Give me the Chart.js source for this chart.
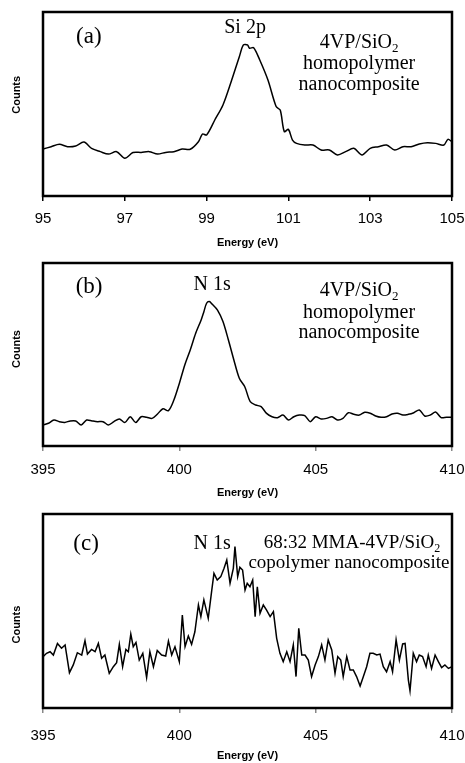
<!DOCTYPE html>
<html><head><meta charset="utf-8">
<script src="https://cdn.jsdelivr.net/npm/chart.js@4.4.1/dist/chart.umd.min.js"></script>
<style>
html,body{margin:0;padding:0;background:#fff;width:465px;height:763px;overflow:hidden;}
canvas{position:absolute;left:0;}
</style></head><body>
<canvas id="ca" width="465" height="250" style="top:0px"></canvas>
<canvas id="cb" width="465" height="250" style="top:250px"></canvas>
<canvas id="cc" width="465" height="263" style="top:500px"></canvas>
<script>
// ---- Panel (a): Si 2p, 4VP/SiO2 homopolymer nanocomposite ----
const energyA = [95.0,95.2,95.4,95.6,95.8,96.0,96.2,96.4,96.6,96.8,97.0,97.2,97.4,97.6,97.8,98.0,98.2,98.4,98.6,98.8,98.9,99.0,99.2,99.4,99.6,99.8,99.9,100.0,100.05,100.15,100.3,100.5,100.7,100.8,100.9,101.0,101.1,101.2,101.4,101.6,101.8,102.0,102.2,102.4,102.6,102.8,103.0,103.2,103.4,103.6,103.8,104.0,104.2,104.4,104.6,104.8,104.9,105.0];
const countsA = [25.5,26.8,28.1,26.8,27.2,29.3,25.7,24.1,22.8,24.1,20.5,23.6,23.7,24.1,22.8,23.7,24.1,25.5,25.4,29.5,33.7,33.2,41.3,49.5,62.1,75.7,82.1,82.1,80.3,80.6,73.9,63.0,48.6,46.7,35.0,36.2,30.4,28.6,27.7,27.7,25.0,25.0,22.3,24.1,25.9,22.3,25.9,26.8,27.7,25.0,26.8,26.8,28.3,29.0,28.6,27.7,30.8,29.5];
const ticksA = [95,97,99,101,103,105];

// ---- Panel (b): N 1s, 4VP/SiO2 homopolymer nanocomposite ----
const energyB = [395.0,395.2,395.4,395.6,395.8,396.0,396.2,396.4,396.6,396.8,397.0,397.2,397.4,397.6,397.8,398.0,398.2,398.4,398.6,398.8,399.0,399.2,399.4,399.6,399.8,400.0,400.2,400.4,400.6,400.8,400.9,401.0,401.1,401.2,401.4,401.6,401.8,402.0,402.2,402.4,402.6,402.8,403.0,403.2,403.4,403.6,403.8,404.0,404.2,404.4,404.6,404.8,405.0,405.2,405.4,405.6,405.8,406.0,406.2,406.4,406.6,406.8,407.0,407.2,407.4,407.6,407.8,408.0,408.2,408.4,408.6,408.8,409.0,409.2,409.4,409.6,409.8,410.0];
const countsB = [11.5,12.4,14.2,13.3,12.9,13.7,13.7,11.5,14.2,13.7,13.3,13.3,11.5,13.3,14.8,12.8,16.0,12.8,16.0,15.7,15.1,17.5,20.4,19.3,25.1,34.2,44.3,52.5,61.6,68.9,73.4,78.0,78.9,77.6,74.3,68.0,57.9,47.0,37.0,32.4,24.2,22.4,21.5,17.8,16.0,15.5,16.9,14.2,16.0,16.9,16.6,13.3,16.0,14.8,15.1,16.0,14.2,15.1,18.2,17.3,16.9,18.4,17.9,16.4,15.7,16.0,17.5,17.9,16.9,17.3,18.2,19.7,16.4,16.9,18.6,15.5,15.7,15.7];
const ticksB = [395,400,405,410];

// ---- Panel (c): N 1s, 68:32 MMA-4VP/SiO2 copolymer nanocomposite ----
const energyC = [395.01,395.13,395.26,395.38,395.53,395.68,395.81,395.97,396.11,396.26,396.42,396.54,396.63,396.78,396.91,397.03,397.15,397.27,397.43,397.58,397.70,397.80,397.92,398.04,398.13,398.22,398.31,398.41,398.53,398.66,398.80,398.92,399.05,399.19,399.35,399.50,399.60,399.72,399.84,400.00,400.11,400.21,400.33,400.45,400.57,400.70,400.79,400.90,401.06,401.19,401.27,401.39,401.52,401.64,401.74,401.86,401.98,402.04,402.14,402.22,402.32,402.41,402.49,402.59,402.69,402.78,402.86,402.96,403.08,403.20,403.33,403.45,403.57,403.69,403.81,403.94,404.06,404.18,404.28,404.38,404.49,404.61,404.73,404.85,404.98,405.10,405.22,405.34,405.46,405.59,405.71,405.81,405.92,406.01,406.14,406.26,406.38,406.50,406.63,406.75,406.87,406.99,407.11,407.24,407.36,407.48,407.60,407.73,407.82,407.95,408.07,408.19,408.28,408.40,408.46,408.58,408.70,408.80,408.92,409.05,409.13,409.25,409.38,409.50,409.62,409.74,409.87,410.0];
const countsC = [26.5,28.2,29.0,27.3,33.3,30.8,32.5,18.2,22.2,28.5,27.3,34.7,27.8,30.2,29.0,33.3,25.6,27.3,17.9,21.3,23.4,32.8,21.3,30.2,29.0,38.1,31.6,33.8,24.7,28.2,15.8,29.0,21.3,29.6,27.3,26.8,34.5,27.3,31.6,23.9,47.9,31.6,37.1,32.8,39.3,53.1,47.1,55.7,46.2,60.8,69.4,66.0,67.7,72.0,76.3,64.3,72.0,83.2,67.7,72.5,71.1,60.8,64.3,62.5,66.0,47.1,62.5,48.8,53.1,50.5,47.1,49.7,35.9,28.2,23.9,29.0,23.9,32.5,16.2,41.1,27.3,27.3,24.7,16.2,22.2,26.5,32.5,24.7,35.1,29.9,17.9,26.5,24.7,16.2,26.5,19.6,19.6,16.2,11.3,16.2,21.3,28.2,28.2,27.3,27.8,21.3,18.7,23.9,18.7,35.1,24.7,33.0,33.3,14.4,8.9,28.2,23.9,27.3,26.5,21.3,27.3,20.4,27.3,23.9,20.8,22.2,20.4,21.3];
const ticksC = [395,400,405,410];

const yTitle = 'Counts';
const xTitle = 'Energy (eV)';

// ---- helpers ----
const framePlugin = {
  id: 'frame',
  afterDatasetsDraw(chart) {
    const {ctx, chartArea: a} = chart;
    ctx.save();
    ctx.strokeStyle = '#000';
    ctx.lineWidth = 2.5;
    ctx.strokeRect(a.left, a.top, a.right - a.left, a.bottom - a.top);
    ctx.restore();
  }
};

const notesPlugin = {
  id: 'notes',
  afterDraw(chart, args, opts) {
    const {ctx} = chart;
    const xs = chart.scales.x, ys = chart.scales.y;
    ctx.save();
    ctx.fillStyle = '#000';
    ctx.textBaseline = 'middle';
    (opts.items || []).forEach(it => {
      const size = it.size || 20;
      const main = size + 'px "Liberation Serif", "Times New Roman", serif';
      const sub = Math.round(size * 0.65) + 'px "Liberation Serif", "Times New Roman", serif';
      const cx = xs.getPixelForValue(it.x);
      const cy = ys.getPixelForValue(it.y);
      const segs = it.segs;
      let w = 0;
      segs.forEach(s => { ctx.font = s.sub ? sub : main; w += ctx.measureText(s.t).width; });
      let x = cx - w / 2;
      segs.forEach(s => {
        ctx.font = s.sub ? sub : main;
        ctx.textAlign = 'left';
        ctx.fillText(s.t, x, s.sub ? cy + size * 0.28 : cy);
        x += ctx.measureText(s.t).width;
      });
    });
    // rotated y-axis title
    if (opts.yTitle) {
      const ys2 = chart.scales.y;
      ctx.translate(17, ys2.getPixelForValue(opts.yTitle.at));
      ctx.rotate(-Math.PI / 2);
      ctx.font = 'bold 11px "Liberation Sans", Arial, sans-serif';
      ctx.textAlign = 'center';
      ctx.fillText(opts.yTitle.text, 0, 0);
    }
    ctx.restore();
  }
};

function makeChart(id, energy, counts, ticks, xmin, xmax, topPad, axisH, tickPad, tickColor, yTitleAt, notes) {
  return new Chart(document.getElementById(id), {
    type: 'line',
    data: {
      datasets: [{
        data: energy.map((e, i) => ({x: e, y: counts[i]})),
        borderColor: '#000',
        borderWidth: 1.5,
        pointRadius: 0,
        tension: id === 'cc' ? 0 : 0.3,
        fill: false
      }]
    },
    options: {
      responsive: false,
      animation: false,
      events: [],
      layout: {padding: {top: topPad, right: 13, bottom: 0, left: 0}},
      plugins: {legend: {display: false}, tooltip: {enabled: false},
                notes: {items: notes, yTitle: {text: yTitle, at: yTitleAt}}},
      scales: {
        x: {
          type: 'linear', min: xmin, max: xmax,
          afterBuildTicks: s => { s.ticks = ticks.map(v => ({value: v})); },
          afterFit: s => { s.height = axisH; s.paddingLeft = 0; s.paddingRight = 0; },
          border: {display: false},
          grid: {display: true, drawOnChartArea: false, drawTicks: true, tickLength: 5, color: tickColor, lineWidth: 1.5},
          ticks: {color: '#000', padding: tickPad, maxRotation: 0, autoSkip: false,
                  font: {family: '"Liberation Sans", Arial, sans-serif', size: 15}},
          title: {display: true, text: xTitle, color: '#000', padding: {top: 0, bottom: 0},
                  font: {family: '"Liberation Sans", Arial, sans-serif', size: 11, weight: 'bold'}}
        },
        y: {
          min: 0, max: 100,
          afterFit: s => { s.width = 43; },
          border: {display: false},
          grid: {display: false},
          ticks: {display: false},
          title: {display: false}
        }
      }
    },
    plugins: [framePlugin, notesPlugin]
  });
}

makeChart('ca', energyA, countsA, ticksA, 95, 105, 12, 54, 9, '#000', 55, [
  {x: 96.12, y: 86.4, size: 23, segs: [{t: '(a)'}]},
  {x: 99.94, y: 91.3, segs: [{t: 'Si 2p'}]},
  {x: 102.73, y: 83.2, segs: [{t: '4VP/SiO'}, {t: '2', sub: true}]},
  {x: 102.73, y: 72.0, segs: [{t: 'homopolymer'}]},
  {x: 102.73, y: 60.6, segs: [{t: 'nanocomposite'}]}
]);

makeChart('cb', energyB, countsB, ticksB, 395, 410, 13, 54, 10, '#888', 53, [
  {x: 396.69, y: 86.9, size: 23, segs: [{t: '(b)'}]},
  {x: 401.2, y: 88.0, segs: [{t: 'N 1s'}]},
  {x: 406.59, y: 84.7, segs: [{t: '4VP/SiO'}, {t: '2', sub: true}]},
  {x: 406.59, y: 72.8, segs: [{t: 'homopolymer'}]},
  {x: 406.59, y: 61.8, segs: [{t: 'nanocomposite'}]}
]);

makeChart('cc', energyC, countsC, ticksC, 395, 410, 14, 55, 14, '#888', 43, [
  {x: 396.58, y: 84.5, size: 23, segs: [{t: '(c)'}]},
  {x: 401.2, y: 84.5, segs: [{t: 'N 1s'}]},
  {x: 406.33, y: 85.0, size: 19, segs: [{t: '68:32 MMA-4VP/SiO'}, {t: '2', sub: true}]},
  {x: 406.22, y: 74.5, size: 19, segs: [{t: 'copolymer nanocomposite'}]}
]);
</script>
</body></html>
